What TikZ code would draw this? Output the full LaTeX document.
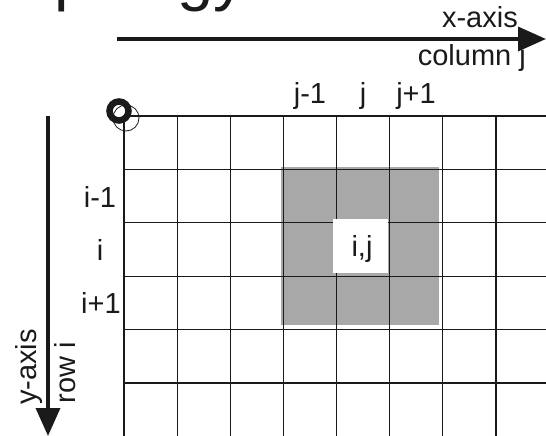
\documentclass[tikz,border=0pt]{standalone}
\usepackage{fontspec}
\setmainfont{Liberation Sans}
\usetikzlibrary{arrows.meta}
\definecolor{ink}{HTML}{1A1A1A}
\definecolor{cellgray}{HTML}{A8A8A8}
\begin{document}
\begin{tikzpicture}[x=1pt,y=-1pt,
  lbl/.style={font=\fontsize{29}{34}\selectfont, text=ink, inner sep=0pt},
  gridline/.style={draw=ink, line width=1.1pt},
  axisarrow/.style={draw=ink, line width=3.5pt, -{Triangle[length=28pt,width=24pt]}}]
\useasboundingbox (0,0) rectangle (546,436);
% cut-off title
\node[font=\fontsize{65}{70}\selectfont, text=ink, anchor=base west, inner sep=0pt] (title) at (-14,-1) {Topology};
% shaded neighbourhood
\fill[cellgray] (280,166) rectangle (440,326);
\draw[white, line width=1.5pt] (280,166) rectangle (440,326);
% grid
\foreach \k in {0,...,7} {
  \draw[gridline] ({124+53.14*\k},116) -- ({124+53.14*\k},436);
}
\foreach \k in {0,...,5} {
  \draw[gridline] (124,{116+53.4*\k}) -- (546,{116+53.4*\k});
}
% centre cell
\fill[white] (333,219) rectangle (388,273);
\node[lbl, anchor=base] (ij) at (362,256) {i,j};
% origin mark
\draw[ink, line width=6.5pt] (119,111) circle (9.5pt);
\draw[ink, line width=0.8pt] (126,118) circle (13pt);
% axes
\coordinate (xs) at (117,39);
\coordinate (xe) at (546,39);
\draw[axisarrow] (xs) -- (xe);
\coordinate (ys) at (48,116);
\coordinate (ye) at (48,436);
\draw[axisarrow] (ys) -- (ye);
\node[lbl, anchor=base east] (xlab) at (518,28) {x-axis};
\node[lbl, anchor=base east] (clab) at (526,66) {column j};
\node[lbl, anchor=base, rotate=90] (ylab) at (36,367) {y-axis};
\node[lbl, anchor=base, rotate=90] (rlab) at (75,373) {row i};
% index labels
\node[lbl, anchor=base] (jm) at (310,103) {j-1};
\node[lbl, anchor=base] (j0) at (363,103) {j};
\node[lbl, anchor=base] (jp) at (416,103) {j+1};
\node[lbl, anchor=base] (im) at (100,207) {i-1};
\node[lbl, anchor=base] (i0) at (100,260) {i};
\node[lbl, anchor=base] (ip) at (101,313) {i+1};
\end{tikzpicture}
\end{document}
